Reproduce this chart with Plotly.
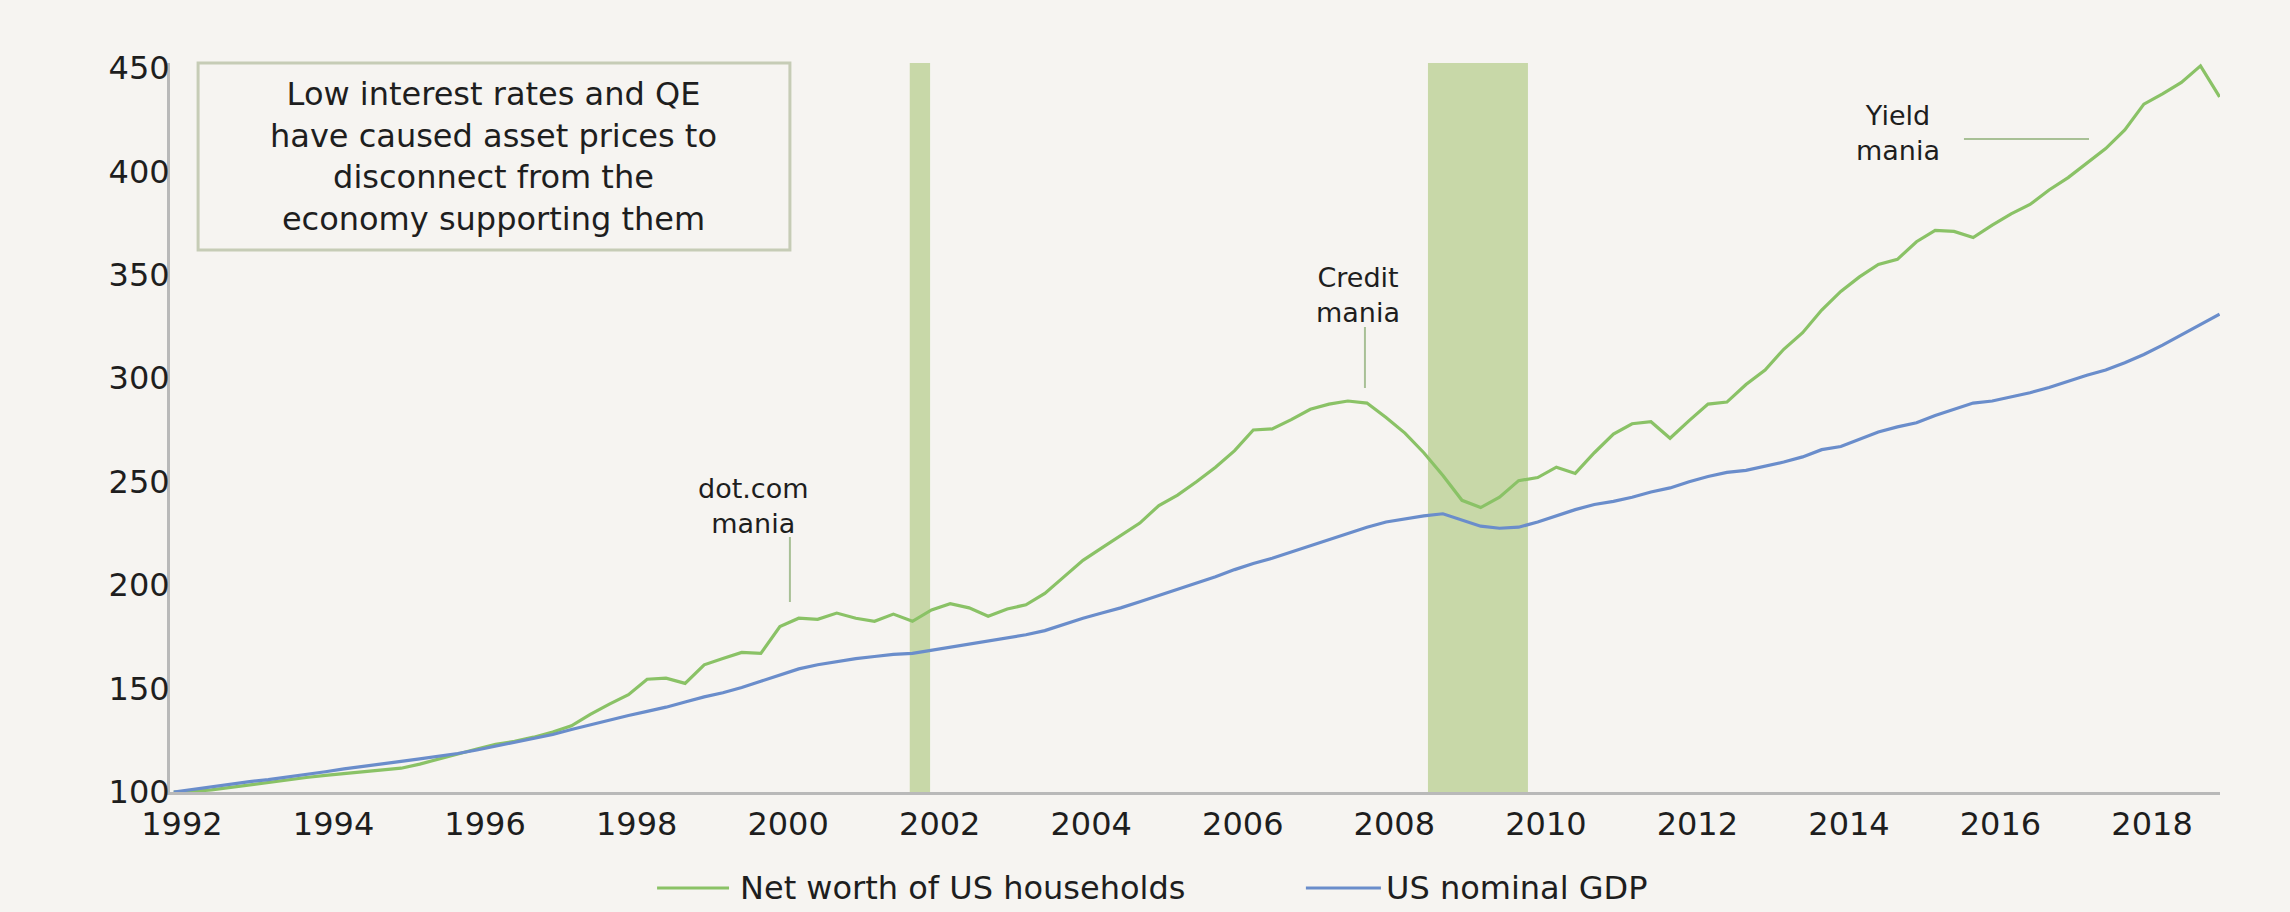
import plotly.graph_objects as go

# ---- data -------------------------------------------------------------
# quarter-end dates, index base (=100) at the end of 1991
quarter_dates = ["1991-12-31"] + [
    f"{y}-{md}" for y in range(1992, 2019)
    for md in ("03-31", "06-30", "09-30", "12-31")
]

net_worth = [
    100.0,
    100.3, 101.0, 102.2, 103.5,
    104.8, 106.0, 107.0, 108.0,
    108.8, 109.5, 110.3, 111.5,
    113.5, 116.0, 118.5, 120.8,
    123.0, 124.5, 126.5, 129.0,
    132.0, 137.5, 142.5, 147.0,
    154.5, 155.0, 152.5, 161.5,
    164.5, 167.5, 167.0, 180.0,
    184.0, 183.5, 186.5, 184.0,
    182.5, 186.0, 182.5, 188.0,
    191.0, 189.0, 185.0, 188.5,
    190.5, 196.0, 204.0, 212.0,
    218.0, 224.0, 230.0, 238.5,
    243.5, 250.0, 257.0, 265.0,
    275.0, 275.5, 280.0, 285.0,
    287.5, 289.0, 288.0, 281.0,
    273.5, 264.0, 253.0, 241.0,
    237.5, 242.5, 250.5, 252.0,
    257.0, 254.0, 264.0, 273.0,
    278.0, 279.0, 271.0, 279.5,
    287.5, 288.5, 297.0, 304.0,
    314.0, 322.0, 333.0, 342.0,
    349.0, 355.0, 357.5, 366.0,
    371.5, 371.0, 368.0, 374.0,
    379.5, 384.0, 391.0, 397.0,
    404.0, 411.0, 420.0, 432.5,
    437.5, 443.0, 451.0, 436.0,
]

nominal_gdp = [
    100.0,
    101.3, 102.5, 103.8, 105.0,
    106.0, 107.2, 108.4, 109.8,
    111.2, 112.5, 113.6, 114.8,
    116.0, 117.2, 118.6, 120.3,
    122.2, 124.0, 125.8, 127.8,
    130.2, 132.5, 134.5, 137.0,
    139.0, 141.0, 143.5, 146.0,
    148.0, 150.5, 153.5, 156.5,
    159.5, 161.5, 163.0, 164.5,
    165.5, 166.5, 167.0, 168.5,
    170.0, 171.5, 173.0, 174.5,
    176.0, 178.0, 181.0, 184.0,
    186.5, 189.0, 192.0, 195.0,
    198.0, 201.0, 204.0, 207.5,
    210.5, 213.0, 216.0, 219.0,
    222.0, 225.0, 228.0, 230.5,
    232.0, 233.5, 234.5, 231.5,
    228.5, 227.5, 228.0, 230.5,
    233.5, 236.5, 239.0, 240.5,
    242.5, 245.0, 247.0, 250.0,
    252.5, 254.5, 255.5, 257.5,
    259.5, 262.0, 265.5, 267.0,
    270.5, 274.0, 276.5, 278.5,
    282.0, 285.0, 288.0, 289.0,
    291.0, 293.0, 295.5, 298.5,
    301.5, 304.0, 307.5, 311.5,
    316.0, 321.0, 326.0, 331.0,
]

series_names = ["Net worth of US households", "US nominal GDP"]
tick_years = list(range(1992, 2019, 2))
y_ticks = [100, 150, 200, 250, 300, 350, 400, 450]

# shaded periods (start, end)
shaded_periods = [("2001-09-17", "2001-12-24"), ("2008-07-20", "2009-11-14")]

box_text = ("Low interest rates and QE<br>have caused asset prices to"
            "<br>disconnect from the<br>economy supporting them")
label_texts = ["dot.com<br>mania", "Credit<br>mania", "Yield<br>mania"]

# ---- style ------------------------------------------------------------
GREEN = "#8ac266"
BLUE = "#6a8dcb"
BAR = "#c8d8a8"
BG = "#f6f4f1"
AXIS = "#b9b9b9"
FONT = "DejaVu Sans"
TXT = "#1e1e1e"

fig = go.Figure()
fig.add_trace(go.Scatter(x=quarter_dates, y=net_worth, mode="lines",
                         name=series_names[0], showlegend=False,
                         line=dict(color=GREEN, width=3.2)))
fig.add_trace(go.Scatter(x=quarter_dates, y=nominal_gdp, mode="lines",
                         name=series_names[1], showlegend=False,
                         line=dict(color=BLUE, width=3.2)))

shapes = []
for x0, x1 in shaded_periods:
    shapes.append(dict(type="rect", xref="x", yref="paper", x0=x0, x1=x1,
                       y0=0, y1=1, fillcolor=BAR, line=dict(width=0),
                       layer="below"))

# text box
shapes.append(dict(type="rect", xref="paper", yref="paper",
                   x0=0.0137, x1=0.3024, y0=0.7435, y1=1.0,
                   line=dict(color="#c6ccb6", width=3), fillcolor="rgba(0,0,0,0)"))

# leader lines
lead = dict(color="#a8c096", width=2)
shapes.append(dict(type="line", xref="paper", yref="paper",
                   x0=0.3024, x1=0.3024, y0=0.3498, y1=0.2606, line=lead))
shapes.append(dict(type="line", xref="paper", yref="paper",
                   x0=0.5829, x1=0.5829, y0=0.6379, y1=0.5542, line=lead))
shapes.append(dict(type="line", xref="paper", yref="paper",
                   x0=0.8751, x1=0.9361, y0=0.8957, y1=0.8957, line=lead))

# manual legend lines
legend_y = -0.1317
shapes.append(dict(type="line", xref="paper", yref="paper",
                   x0=0.2376, x1=0.2727, y0=legend_y, y1=legend_y,
                   line=dict(color=GREEN, width=3)))
shapes.append(dict(type="line", xref="paper", yref="paper",
                   x0=0.5541, x1=0.5907, y0=legend_y, y1=legend_y,
                   line=dict(color=BLUE, width=3)))

ann = []
def txt(text, x, y, size=30, xanchor="center"):
    ann.append(dict(text=text, x=x, y=y, xref="paper", yref="paper",
                    xanchor=xanchor, yanchor="middle", showarrow=False,
                    font=dict(family=FONT, size=size, color=TXT)))

txt(box_text, 0.158, 0.8724, size=32)
txt(label_texts[0], 0.2846, 0.3923, size=27)
txt(label_texts[1], 0.5797, 0.6818, size=27)
txt(label_texts[2], 0.8429, 0.9040, size=27)
txt(series_names[0], 0.2771, legend_y, size=32, xanchor="left")
txt(series_names[1], 0.5922, legend_y, size=32, xanchor="left")

fig.update_layout(
    width=2290, height=912,
    margin=dict(l=170, r=70, t=63, b=120),
    paper_bgcolor=BG, plot_bgcolor=BG,
    shapes=shapes, annotations=ann,
    showlegend=False,
    font=dict(family=FONT, size=32, color=TXT),
)
fig.update_xaxes(
    type="date", range=["1991-12-13", "2019-01-02"],
    tickvals=[f"{y}-01-01" for y in tick_years],
    ticktext=[str(y) for y in tick_years],
    showgrid=False, zeroline=False, showline=True, linecolor=AXIS,
    linewidth=3, ticks="", ticklabelstandoff=2, ticklabelshift=8,
    tickfont=dict(family=FONT, size=32, color=TXT),
)
fig.update_yaxes(
    range=[100, 452.4], tickvals=y_ticks,
    showgrid=False, zeroline=False, showline=True, linecolor=AXIS,
    linewidth=3, ticks="", ticklabelstandoff=-9,
    tickfont=dict(family=FONT, size=32, color=TXT),
)

fig.write_html("out.html",
               config={"displayModeBar": False},
               post_script="document.body.style.margin='0px';"
                           "document.body.style.overflow='hidden';")
